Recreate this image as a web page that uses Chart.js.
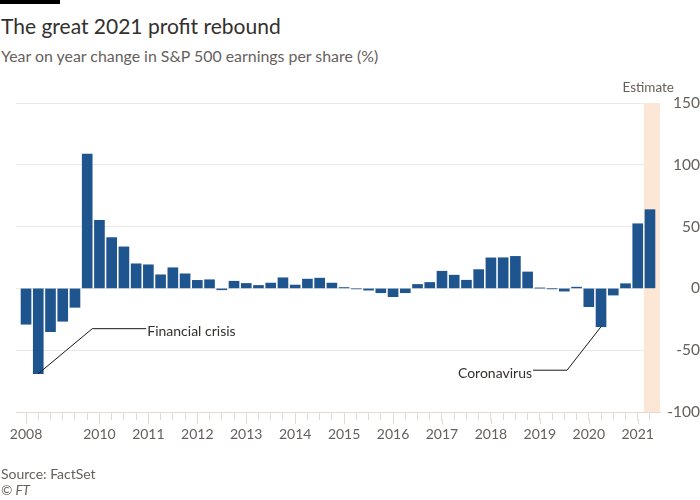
<!DOCTYPE html>
<html>
<head>
<meta charset="utf-8">
<script src="https://cdn.jsdelivr.net/npm/chart.js@4/dist/chart.umd.min.js"></script>
<style>
  html, body { margin: 0; padding: 0; background: #fff; }
  #wrap { position: relative; width: 700px; height: 500px; overflow: hidden; font-family: Lato, sans-serif; }
  #bar { position: absolute; left: 0; top: 0; width: 60px; height: 4px; background: #000; }
  .txt { position: absolute; left: 1px; white-space: nowrap; }
  #title { top: 16px; font-size: 21px; line-height: 20px; color: #33302e; }
  #sub { top: 49px; font-size: 15.9px; line-height: 14px; color: #66605c; }
  #src { top: 467px; font-size: 14px; line-height: 14px; color: #66605c; }
  #ft { top: 483px; font-size: 13.5px; line-height: 14px; color: #66605c; font-style: italic; }
  canvas { position: absolute; left: 0; top: 0; }
</style>
</head>
<body>
<div id="wrap">
  <div id="bar"></div>
  <div class="txt" id="title">The great 2021 profit rebound</div>
  <div class="txt" id="sub">Year on year change in S&amp;P 500 earnings per share (%)</div>
  <canvas id="epsChart" width="700" height="500"></canvas>
  <div class="txt" id="src">Source: FactSet</div>
  <div class="txt" id="ft">© FT</div>
</div>
<script>
// quarterly data, 2008 Q3 to 2021 Q2
const quarters = [
  '2008Q3', '2008Q4', '2009Q1', '2009Q2', '2009Q3', '2009Q4',
  '2010Q1', '2010Q2', '2010Q3', '2010Q4', '2011Q1', '2011Q2', '2011Q3', '2011Q4',
  '2012Q1', '2012Q2', '2012Q3', '2012Q4', '2013Q1', '2013Q2', '2013Q3', '2013Q4',
  '2014Q1', '2014Q2', '2014Q3', '2014Q4', '2015Q1', '2015Q2', '2015Q3', '2015Q4',
  '2016Q1', '2016Q2', '2016Q3', '2016Q4', '2017Q1', '2017Q2', '2017Q3', '2017Q4',
  '2018Q1', '2018Q2', '2018Q3', '2018Q4', '2019Q1', '2019Q2', '2019Q3', '2019Q4',
  '2020Q1', '2020Q2', '2020Q3', '2020Q4', '2021Q1', '2021Q2'
];
const epsChange = [
  -29, -69, -35, -26.6, -15.3, 108.6,
  55.1, 41.1, 33.6, 19.9, 19.1, 11.0, 16.7, 11.8,
  6.5, 7.0, -1.1, 5.8, 4.0, 2.4, 4.3, 8.6,
  2.7, 7.5, 8.3, 4.3, 0.7, -0.3, -1.4, -3.5,
  -6.7, -3.5, 3.2, 4.8, 13.9, 10.7, 6.6, 15.2,
  24.7, 24.8, 25.9, 13.3, 0.2, -0.2, -2.2, 1.0,
  -14.8, -31, -5.4, 3.8, 52.3, 63.7
];
const yearLabels = ['2008', '2010', '2011', '2012', '2013', '2014', '2015', '2016', '2017', '2018', '2019', '2020', '2021'];
const yearQuarters = ['2008Q3', '2010Q1', '2011Q1', '2012Q1', '2013Q1', '2014Q1', '2015Q1', '2016Q1', '2017Q1', '2018Q1', '2019Q1', '2020Q1', '2021Q1'];
const yTicks = [-100, -50, 0, 50, 100, 150];
const estimateFrom = '2021Q2';
const notes = [
  { text: 'Financial crisis', quarter: '2008Q4' },
  { text: 'Coronavirus', quarter: '2020Q2' }
];

const grey = '#66605c';
const dark = '#33302e';
const tickCol = '#e2d9cf';

const ftExtras = {
  id: 'ftExtras',
  beforeDatasetsDraw(chart) {
    const { ctx, chartArea, scales: { x } } = chart;
    const left = x.getPixelForValue(quarters.indexOf(estimateFrom) - 0.5);
    ctx.save();
    ctx.fillStyle = '#fce6d6';
    ctx.fillRect(left, chartArea.top, chartArea.right - left, chartArea.bottom - chartArea.top);
    ctx.restore();
  },
  afterDraw(chart) {
    const { ctx, chartArea, scales: { x, y } } = chart;
    ctx.save();
    // longer ticks for years
    ctx.strokeStyle = tickCol;
    ctx.lineWidth = 1;
    yearQuarters.forEach(q => {
      const px = Math.round(x.getPixelForValue(quarters.indexOf(q))) + 0.5;
      ctx.beginPath();
      ctx.moveTo(px, chartArea.bottom + 7);
      ctx.lineTo(px, chartArea.bottom + 12);
      ctx.stroke();
    });
    // Estimate label
    ctx.font = '13.5px Lato';
    ctx.fillStyle = grey;
    ctx.textAlign = 'right';
    ctx.textBaseline = 'middle';
    ctx.fillText('Estimate', chartArea.right + 14, chartArea.top - 15);

    // annotations
    ctx.strokeStyle = '#1a1817';
    ctx.fillStyle = dark;
    ctx.font = '14px Lato';
    const a = notes[0], ai = quarters.indexOf(a.quarter);
    let px = x.getPixelForValue(ai), py = y.getPixelForValue(epsChange[ai]);
    ctx.beginPath();
    ctx.moveTo(px, py);
    ctx.lineTo(px + 54, py - 45);
    ctx.lineTo(px + 108, py - 45);
    ctx.stroke();
    ctx.textAlign = 'left';
    ctx.fillText(a.text, px + 109, py - 42);

    const b = notes[1], bi = quarters.indexOf(b.quarter);
    px = x.getPixelForValue(bi); py = y.getPixelForValue(epsChange[bi]);
    ctx.beginPath();
    ctx.moveTo(px, py);
    ctx.lineTo(px - 34, py + 43.5);
    ctx.lineTo(px - 68, py + 43.5);
    ctx.stroke();
    ctx.textAlign = 'right';
    ctx.fillText(b.text, px - 69, py + 47);
    ctx.restore();
  }
};

const ctx = document.getElementById('epsChart').getContext('2d');
const epsChart = new Chart(ctx, {
  type: 'bar',
  data: {
    datasets: [{
      data: epsChange.map((v, i) => ({ x: i, y: v })),
      backgroundColor: '#1f558f',
      barThickness: 10
    }]
  },
  options: {
    responsive: false,
    animation: false,
    layout: { padding: { top: 103, left: 16, right: 0, bottom: 0 } },
    plugins: { legend: { display: false }, tooltip: { enabled: false } },
    scales: {
      x: {
        type: 'linear',
        offset: false,
        min: -0.82,
        max: 51.82,
        afterBuildTicks: s => { s.ticks = quarters.map((q, i) => ({ value: i })); },
        afterFit: s => { s.height = 88; s.paddingLeft = 0; s.paddingRight = 0; },
        ticks: {
          autoSkip: false,
          maxRotation: 0,
          padding: 6,
          color: grey,
          font: { family: 'Lato', size: 14 },
          callback: v => {
            const k = yearQuarters.indexOf(quarters[v]);
            return k >= 0 ? yearLabels[k] : '';
          }
        },
        grid: { offset: false, drawOnChartArea: false, tickLength: 8, color: tickCol },
        border: { color: tickCol }
      },
      y: {
        position: 'right',
        min: -100,
        max: 150,
        afterBuildTicks: s => { s.ticks = yTicks.map(v => ({ value: v })); },
        afterFit: s => { s.width = 40; s.paddingTop = 0; s.paddingBottom = 0; },
        ticks: {
          crossAlign: 'far',
          padding: 2,
          color: grey,
          font: { family: 'Lato', size: 15.5 }
        },
        grid: { color: '#ebe8e4', drawTicks: false, tickLength: 0 },
        border: { display: false }
      }
    }
  },
  plugins: [ftExtras]
});
</script>
</body>
</html>
